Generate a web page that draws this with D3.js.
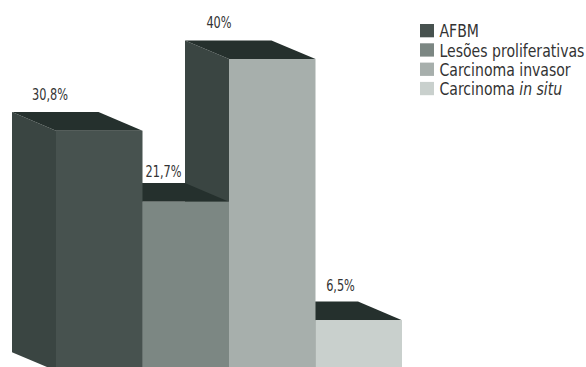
<!DOCTYPE html>
<html>
<head>
<meta charset="utf-8">
<script src="https://cdn.jsdelivr.net/npm/d3@7"></script>
<style>
  html, body { margin: 0; padding: 0; background: #ffffff; }
  svg { display: block; }
  text { font-family: "Liberation Sans Narrow", "DejaVu Sans Condensed", "Arial Narrow", sans-serif; fill: #333; }
</style>
</head>
<body>
<script>
// ---- data ----
const categories = ["AFBM", "Lesões proliferativas", "Carcinoma invasor", "Carcinoma in situ"];
const values = [30.8, 21.7, 40, 6.5];
const valueLabels = ["30,8%", "21,7%", "40%", "6,5%"];

// ---- layout / style ----
const W = 586, H = 367;
const frontColors = ["#47524f", "#7c8783", "#a7afac", "#c9d0cd"];
const topColor = "#25302d";
const sideColor = "#3a4542";
const depthX = 44, depthY = 18.6;
const labelDx = [-6, 21, -10, 25];
const labelDy = [-12, -6, -12.5, -11];

const svg = d3.select("body").append("svg").attr("width", W).attr("height", H);

const x = d3.scaleBand().domain(categories).range([56, 402]).padding(0);
const y = d3.scaleLinear().domain([0, 40]).range([370.8, 59]);
const color = d3.scaleOrdinal().domain(categories).range(frontColors);

const bw = x.bandwidth();
const line = d3.line();
const order = d3.range(categories.length).reverse();

const bars = svg.append("g");
order.forEach(i => {
  const c = categories[i];
  const x0 = x(c), x1 = x0 + bw;
  const yt = y(values[i]), yb = y(0);
  const g = bars.append("g");
  g.append("path")
    .attr("d", line([[x0 - depthX, yt - depthY], [x0, yt], [x0, yb], [x0 - depthX, yb - depthY]]) + "Z")
    .attr("fill", sideColor);
  g.append("path")
    .attr("d", line([[x0 - depthX, yt - depthY], [x1 - depthX, yt - depthY], [x1, yt], [x0, yt]]) + "Z")
    .attr("fill", topColor);
  g.append("rect")
    .attr("x", x0).attr("y", yt).attr("width", bw).attr("height", yb - yt)
    .attr("fill", color(c));
});

// value labels (condensed horizontally to match the narrow typeface)
const labelG = svg.append("g").selectAll("g")
  .data(categories)
  .join("g");
const labelText = labelG.append("text")
  .attr("text-anchor", "middle")
  .attr("font-size", 15)
  .text((c, i) => valueLabels[i]);
const labelScale = 36 / labelText.nodes()[0].getComputedTextLength();
labelG.attr("transform", (c, i) => `translate(${x(c) + labelDx[i]},${y(values[i]) - depthY + labelDy[i]}) scale(${labelScale},1)`);

// legend
const legend = svg.append("g").attr("transform", "translate(420,24)");
const rows = legend.selectAll("g").data(categories).join("g")
  .attr("transform", (c, i) => `translate(0,${i * 19.3})`);
rows.append("rect").attr("width", 14).attr("height", 13.3).attr("fill", c => color(c));
const legendText = rows.append("g").attr("transform", "translate(19.5,13.3)")
  .append("text")
  .attr("font-size", 17.5)
  .each(function (c) {
    const t = d3.select(this);
    const m = c.match(/^(.*?)(in situ)$/);
    if (m) {
      t.append("tspan").text(m[1]);
      t.append("tspan").attr("font-style", "italic").text(m[2]);
    } else {
      t.text(c);
    }
  });
// scale all legend texts by the same factor so the widest fits the reference width
const widest = d3.max(legendText.nodes(), n => n.getComputedTextLength());
const legScale = 145 / widest;
legendText.each(function () {
  d3.select(this.parentNode).attr("transform", `translate(19.5,13.3) scale(${legScale},1)`);
});
</script>
</body>
</html>
